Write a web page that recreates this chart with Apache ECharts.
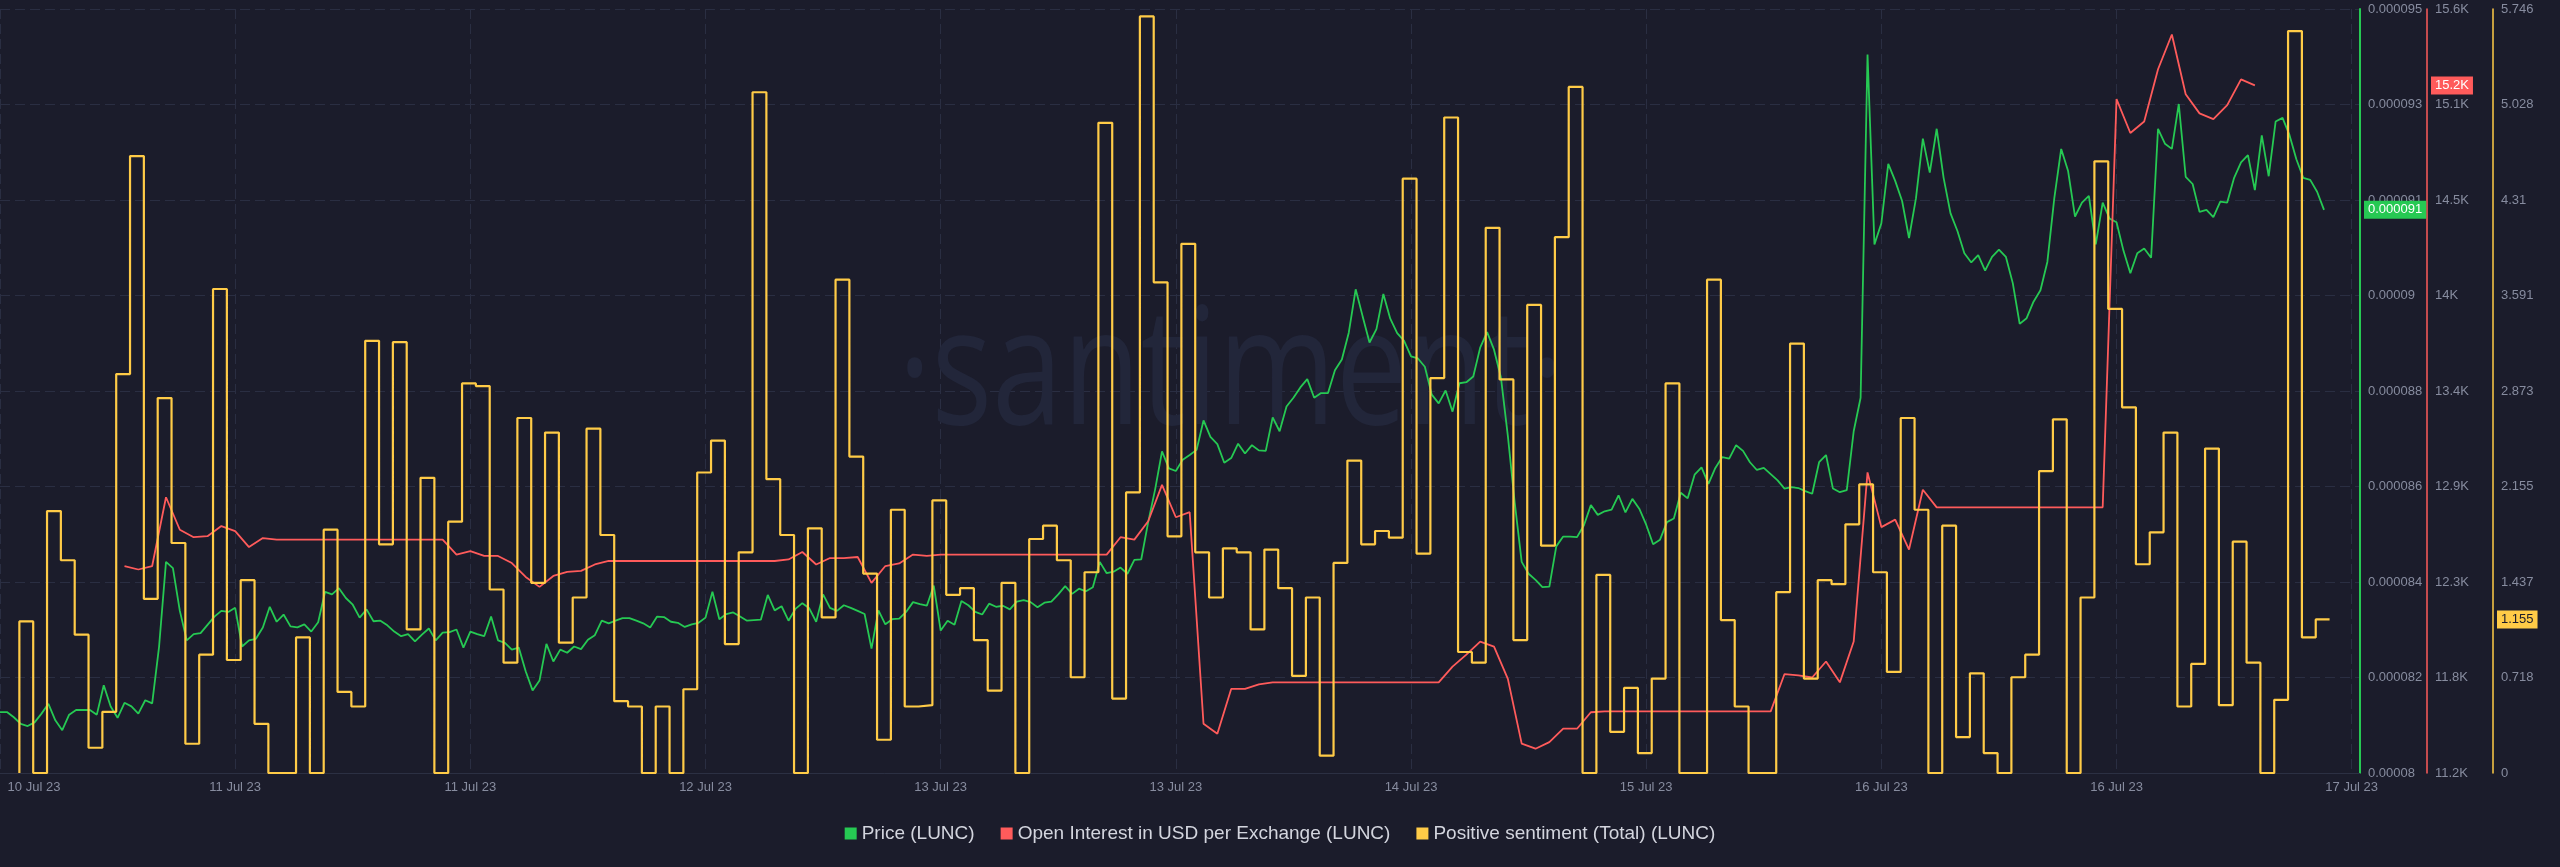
<!DOCTYPE html>
<html>
<head>
<meta charset="utf-8">
<script src="https://cdn.jsdelivr.net/npm/echarts@6/dist/echarts.min.js"></script>
<style>
html,body{margin:0;padding:0;background:#1b1c2b;}
#chart{width:2560px;height:867px;}
</style>
</head>
<body>
<div id="chart"></div>
<script>
// ---------- DATA ----------
// x axis: hours since start of the window; labels every 17 hours
const X_LABELS = ['10 Jul 23','11 Jul 23','11 Jul 23','12 Jul 23','13 Jul 23','13 Jul 23','14 Jul 23','15 Jul 23','16 Jul 23','16 Jul 23','17 Jul 23'];
const X_LABEL_STEP_H = 17;
const X_MAX_H = 170.6;

// Price (LUNC), every 30 minutes, starting at hour 0 (values in units of 1e-6 USD)
const PRICE_START_H = 0, PRICE_STEP_H = 0.5;
const PRICE_MICRO = [
  81.48,81.48,81.38,81.25,81.21,81.28,81.45,81.64,81.32,81.13,81.43,81.52,81.52,81.52,81.43,82.00,81.59,81.37,81.66,81.59,
  81.45,81.71,81.65,82.75,84.39,84.27,83.44,82.87,82.99,83.01,83.17,83.33,83.44,83.42,83.50,82.75,82.87,82.90,83.12,83.52,
  83.23,83.37,83.14,83.12,83.18,83.04,83.22,83.81,83.76,83.88,83.69,83.56,83.31,83.47,83.24,83.25,83.16,83.04,
  82.95,82.99,82.85,82.98,83.10,82.87,83.02,83.03,83.08,82.73,83.04,82.99,82.95,83.33,82.87,82.82,82.69,82.73,82.27,81.90,
  82.09,82.80,82.46,82.69,82.63,82.75,82.70,82.88,82.97,83.25,83.20,83.25,83.30,83.30,83.25,83.20,83.12,83.33,83.32,83.23,
  83.21,83.13,83.18,83.21,83.31,83.81,83.28,83.38,83.41,83.33,83.25,83.26,83.27,83.75,83.45,83.53,83.25,83.48,
  83.59,83.49,83.23,83.76,83.50,83.44,83.55,83.50,83.44,83.38,82.71,83.45,83.18,83.28,83.29,83.42,83.61,83.57,83.54,83.93,
  83.06,83.25,83.17,83.63,83.55,83.42,83.37,83.58,83.52,83.54,83.47,83.62,83.65,83.61,83.51,83.60,83.62,83.76,83.92,83.77,
  83.87,83.82,83.90,84.39,84.17,84.20,84.28,84.16,84.43,84.44,85.16,85.79,86.53,86.20,86.15,86.37,86.46,86.56,
  87.13,86.81,86.67,86.31,86.40,86.68,86.49,86.65,86.55,86.54,87.19,86.92,87.40,87.57,87.77,87.93,87.57,87.66,87.66,88.10,
  88.31,88.83,89.67,89.15,88.64,88.90,89.58,89.10,88.82,88.67,88.37,88.33,88.17,87.63,87.46,87.71,87.30,87.85,87.87,87.98,
  88.54,88.84,88.50,87.96,86.83,85.53,84.39,84.16,84.04,83.90,83.91,84.69,84.88,84.88,84.87,85.10,85.49,85.30,
  85.37,85.40,85.68,85.35,85.61,85.42,85.11,84.73,84.82,85.16,85.23,85.73,85.62,86.08,86.22,85.90,86.21,86.42,86.39,86.65,
  86.54,86.32,86.17,86.21,86.09,85.97,85.81,85.84,85.82,85.76,85.71,86.32,86.46,85.81,85.74,85.78,86.92,87.57,94.22,90.54,
  90.95,92.10,91.77,91.38,90.66,91.43,92.59,91.93,92.78,91.83,91.14,90.80,90.37,90.19,90.33,90.03,90.30,90.44,
  90.30,89.79,89.00,89.11,89.43,89.65,90.20,91.43,92.39,91.96,91.08,91.35,91.48,90.54,91.35,91.04,90.97,90.42,89.98,90.37,
  90.46,90.28,92.78,92.49,92.39,93.26,91.85,91.71,91.17,91.21,91.07,91.37,91.35,91.83,92.13,92.27,91.59,92.65,91.86,92.92,
  92.99,92.66,92.19,91.83,91.79,91.56,91.21
];

// Open Interest in USD per Exchange (LUNC), hourly, starting at hour 9
const OI_START_H = 9, OI_STEP_H = 1;
const OPEN_INTEREST = [
  12392,12372,12392,12788,12601,12558,12564,12622,12593,12501,12553,
  12544,12544,12544,12544,12544,12544,12544,12544,12544,12544,12544,12544,12544,
  12458,12478,12450,12450,12409,12329,12272,12335,12358,12364,12401,
  12421,12421,12421,12421,12421,12421,12421,12421,12421,12421,12421,12421,12421,
  12430,12473,12401,12438,12438,12444,12295,12392,12407,12458,12450,
  12458,12458,12458,12458,12458,12458,12458,12458,12458,12458,12458,12458,12458,
  12558,12544,12650,12859,12673,12702,11484,11426,11684,11684,11710,
  11722,11722,11722,11722,11722,11722,11722,11722,11722,11722,11722,11722,11722,
  11813,11882,11957,11928,11742,11369,11340,11378,11455,11455,11550,
  11555,11555,11555,11555,11555,11555,11555,11555,11555,11555,11555,11555,11555,
  11770,11762,11750,11842,11722,11957,12931,12616,12659,12487,12831,
  12730,12730,12730,12730,12730,12730,12730,12730,12730,12730,12730,12730,12730,
  15081,14886,14952,15253,15453,15109,14999,14966,15046,15195,15160
];

// Positive sentiment (Total) (LUNC), hourly steps, first point at hour 1.4
const SENT_START_H = 1.4, SENT_STEP_H = 1;
const SENTIMENT = [
  0,
  1.14,0,1.97,1.60,1.04,0.19,0.46,3.00,4.64,1.31,2.82,1.73,0.22,0.89,3.64,0.85,1.45,0.37,0,0,1.02,0,1.83,0.61,0.50,3.25,1.72,3.24,
  1.08,2.22,0,1.89,2.93,2.91,1.38,0.83,2.67,1.43,2.56,0.98,1.32,2.59,1.79,0.54,0.50,0,0.50,0,0.63,2.26,2.50,0.97,1.66,5.12,2.21,1.79,0,
  1.84,1.17,3.71,2.38,1.50,0.25,1.98,0.50,0.51,2.05,1.34,1.39,1.00,0.62,1.43,0,1.76,1.86,1.60,0.72,1.51,4.89,0.56,2.11,5.69,3.69,1.78,3.98,1.66,
  1.32,1.69,1.66,1.08,1.68,1.39,0.73,1.32,0.13,1.58,2.35,1.72,1.82,1.77,4.47,1.65,2.97,4.93,0.91,0.83,4.10,2.96,1.00,3.52,1.71,4.03,5.16,0,1.49,
  0.31,0.64,0.15,0.71,2.93,0,0,3.71,1.15,0.50,0,0,1.36,3.23,0.71,1.45,1.42,1.87,2.17,1.51,0.76,2.67,1.98,0,1.86,0.27,0.75,0.15,0,
  0.72,0.89,2.27,2.66,0,1.32,4.60,3.49,2.75,1.57,1.81,2.56,0.50,0.82,2.44,0.51,1.74,0.83,0,0.55,5.58,1.02,1.155
];

// axis ranges and tick labels (bottom to top)
const PRICE_MIN = 80.3e-6, PRICE_MAX = 95.1e-6;
const PRICE_TICK_LABELS = ['0.00008','0.000082','0.000084','0.000086','0.000088','0.00009','0.000091','0.000093','0.000095'];
const OI_MIN = 11200, OI_MAX = 15600;
const OI_TICK_LABELS = ['11.2K','11.8K','12.3K','12.9K','13.4K','14K','14.5K','15.1K','15.6K'];
const SENT_MIN = 0, SENT_MAX = 5.746;
const SENT_TICK_LABELS = ['0','0.718','1.437','2.155','2.873','3.591','4.31','5.028','5.746'];

const SERIES_NAMES = ['Price (LUNC)','Open Interest in USD per Exchange (LUNC)','Positive sentiment (Total) (LUNC)'];

// ---------- STYLE ----------
const C_GREEN = '#26c953', C_RED = '#ff5b5b', C_YELLOW = '#ffcb47';
const BG = '#1b1c2b';
const GRID_LINE = '#2a2e42';
const AXIS_TEXT = '#878c9f';
const FONT = '"Liberation Sans", Arial, sans-serif';
const GRID = {left: 0, right: 200, top: 9, bottom: 94};
const OFFSET_OI = 67, OFFSET_SENT = 133;
const N_SPLIT = PRICE_TICK_LABELS.length - 1;

function ticks(min, max) {
  const out = [];
  for (let k = 0; k <= N_SPLIT; k++) out.push(min + k * (max - min) / N_SPLIT);
  return out;
}
function labelFor(labels, min, max) {
  const step = (max - min) / N_SPLIT;
  return function (v) {
    const i = Math.round((v - min) / step);
    if (i < 0 || i >= labels.length || Math.abs(v - (min + i * step)) > step * 0.01) return '';
    return labels[i];
  };
}

const PRICE = PRICE_MICRO.map(v => v * 1e-6);

const chart = echarts.init(document.getElementById('chart'), null, {renderer: 'canvas'});

const yLabelBase = {fontSize: 13, color: AXIS_TEXT, fontFamily: FONT, margin: 8};

chart.setOption({
  backgroundColor: BG,
  animation: false,
  textStyle: {fontFamily: FONT},
  grid: GRID,
  legend: {
    data: SERIES_NAMES,
    bottom: 19,
    left: 'center',
    icon: 'rect',
    itemWidth: 12,
    itemHeight: 12,
    itemGap: 26,
    textStyle: {color: '#d3d5de', fontSize: 19, fontFamily: FONT}
  },
  xAxis: {
    type: 'value',
    min: 0,
    max: X_MAX_H,
    interval: X_LABEL_STEP_H,
    axisLine: {show: true, onZero: false, lineStyle: {color: '#2c3043', width: 1}},
    axisTick: {show: false},
    splitLine: {show: true, lineStyle: {color: GRID_LINE, type: [10, 5], width: 1}},
    axisLabel: {
      fontSize: 13, color: AXIS_TEXT, fontFamily: FONT, margin: 8,
      showMinLabel: true, showMaxLabel: true,
      formatter: function (v) {
        const i = Math.round(v / X_LABEL_STEP_H);
        if (Math.abs(v - i * X_LABEL_STEP_H) > 0.01 || i >= X_LABELS.length) return '';
        return i === 0 ? '{first|' + X_LABELS[0] + '}' : X_LABELS[i];
      },
      rich: {first: {fontSize: 13, color: AXIS_TEXT, fontFamily: FONT, padding: [0, 0, 0, 68]}}
    }
  },
  yAxis: [
    {
      type: 'value', position: 'right', offset: 0,
      min: PRICE_MIN, max: PRICE_MAX,
      axisLine: {show: true, onZero: false, lineStyle: {color: C_GREEN, width: 2}},
      axisTick: {show: false},
      splitLine: {show: false},
      axisLabel: Object.assign({}, yLabelBase, {
        customValues: ticks(PRICE_MIN, PRICE_MAX),
        formatter: labelFor(PRICE_TICK_LABELS, PRICE_MIN, PRICE_MAX)
      })
    },
    {
      type: 'value', position: 'right', offset: OFFSET_OI,
      min: OI_MIN, max: OI_MAX,
      axisLine: {show: true, onZero: false, lineStyle: {color: C_RED, width: 1.5}},
      axisTick: {show: false},
      splitLine: {show: false},
      axisLabel: Object.assign({}, yLabelBase, {
        customValues: ticks(OI_MIN, OI_MAX),
        formatter: labelFor(OI_TICK_LABELS, OI_MIN, OI_MAX)
      })
    },
    {
      type: 'value', position: 'right', offset: OFFSET_SENT,
      min: SENT_MIN, max: SENT_MAX,
      interval: (SENT_MAX - SENT_MIN) / N_SPLIT,
      axisLine: {show: true, onZero: false, lineStyle: {color: C_YELLOW, width: 1.5}},
      axisTick: {show: false},
      splitLine: {show: true, lineStyle: {color: GRID_LINE, type: [10, 5], width: 1}},
      axisLabel: Object.assign({}, yLabelBase, {
        showMinLabel: true, showMaxLabel: true,
        formatter: labelFor(SENT_TICK_LABELS, SENT_MIN, SENT_MAX)
      })
    }
  ],
  series: [
    {
      name: SERIES_NAMES[0], type: 'line', yAxisIndex: 0,
      data: PRICE.map((v, i) => [PRICE_START_H + i * PRICE_STEP_H, v]),
      showSymbol: false, symbol: 'none',
      lineStyle: {color: C_GREEN, width: 1.8}, itemStyle: {color: C_GREEN}, z: 3
    },
    {
      name: SERIES_NAMES[1], type: 'line', yAxisIndex: 1,
      data: OPEN_INTEREST.map((v, i) => [OI_START_H + i * OI_STEP_H, v]),
      showSymbol: false, symbol: 'none',
      lineStyle: {color: C_RED, width: 1.8}, itemStyle: {color: C_RED}, z: 3
    },
    {
      name: SERIES_NAMES[2], type: 'line', yAxisIndex: 2, step: 'start',
      data: SENTIMENT.map((v, i) => [SENT_START_H + i * SENT_STEP_H, v]),
      showSymbol: false, symbol: 'none',
      lineStyle: {color: C_YELLOW, width: 2.2}, itemStyle: {color: C_YELLOW}, z: 4
    }
  ]
});

// last-value badges on the axes + watermark
const gridRightX = 2560 - GRID.right;
const lastPrice = PRICE[PRICE.length - 1];
const lastOI = OPEN_INTEREST[OPEN_INTEREST.length - 1];
const lastSent = SENTIMENT[SENTIMENT.length - 1];
const yP = chart.convertToPixel({yAxisIndex: 0}, lastPrice);
const yO = chart.convertToPixel({yAxisIndex: 1}, lastOI);
const yS = chart.convertToPixel({yAxisIndex: 2}, lastSent);

function badge(x, y, text, bg, fg) {
  return {
    type: 'text', x: x, y: y, z: 10,
    style: {
      text: text, fill: fg, backgroundColor: bg,
      padding: [3, 4, 2, 4], font: '13px ' + FONT,
      align: 'left', verticalAlign: 'middle'
    }
  };
}

chart.setOption({
  graphic: [
    {
      type: 'text', x: 1231, y: 378, scaleX: 0.78, z: 0, silent: true,
      style: {
        text: '\u00B7santiment\u00B7', fill: '#22263a',
        font: '400 163px "Open Sans", "Noto Sans", sans-serif',
        align: 'center', verticalAlign: 'middle'
      }
    },
    badge(gridRightX + 4, yP, lastPrice.toFixed(6), C_GREEN, '#ffffff'),
    badge(gridRightX + OFFSET_OI + 4, yO, (lastOI / 1000).toFixed(1) + 'K', C_RED, '#ffffff'),
    badge(gridRightX + OFFSET_SENT + 4, yS, lastSent.toFixed(3), C_YELLOW, '#1b1c2b')
  ]
});
</script>
</body>
</html>
